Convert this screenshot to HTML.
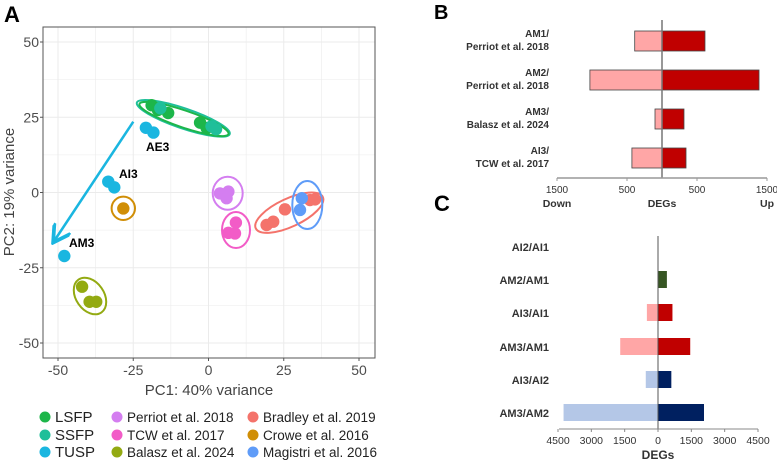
<!DOCTYPE html>
<html><head><meta charset="utf-8"><style>
body{margin:0;background:#fff;width:777px;height:462px;overflow:hidden;font-family:"Liberation Sans",sans-serif}
</style></head><body>
<svg id="s" width="777" height="462" viewBox="0 0 777 462" xmlns="http://www.w3.org/2000/svg" font-family="Liberation Sans, sans-serif">
<text x="4" y="22" font-size="22" font-weight="bold">A</text>
<text x="434" y="19" font-size="20" font-weight="bold">B</text>
<text x="434" y="211" font-size="22" font-weight="bold">C</text>
<g id="pca"></g>
<g id="pb"></g>
<g id="pc"></g>
<g id="leg"></g>
</svg>
<script>
const NS="http://www.w3.org/2000/svg";
function mk(p,t,a,txt){const e=document.createElementNS(NS,t);for(const k in a)e.setAttribute(k,a[k]);if(txt!==undefined)e.textContent=txt;p.appendChild(e);return e;}
// ---------- Panel A data ----------
const pcaTicks=[-50,-25,0,25,50];
const groupNames=["LSFP","SSFP","TUSP","Perriot","TCW","Balasz","Bradley","Crowe","Magistri"];
const groupColors=["#1db64a","#1fbf9a","#1ab6e0","#d47ef0","#f25cc7","#93aa12","#f4736b","#d08e06","#5f9cf8"];
const ptsLSFP=[[-18.9,29],[-16.8,27.4],[-13.4,26.4],[-2.8,23.2],[-0.6,21.4]];
const ptsSSFP=[[-16,28],[1,22],[2.5,21]];
const ptsTUSP=[[-20.8,21.5],[-18.3,19.9],[-33.3,3.6],[-31.3,1.7],[-47.9,-21.1]];
const ptsPerriot=[[3.8,-0.3],[6.6,0.3],[6,-1.9]];
const ptsTCW=[[9.1,-10],[6.6,-13.4],[8.8,-13.6]];
const ptsBalasz=[[-42,-31.3],[-39.5,-36.3],[-37.3,-36.3]];
const ptsBradley=[[19.3,-10.8],[21.5,-9.7],[25.4,-5.6],[33.7,-2.5],[35.4,-2.3]];
const ptsCrowe=[[-28.3,-5.3]];
const ptsMagistri=[[31,-1.9],[30.4,-5.8]];
const allPts=[ptsLSFP,ptsSSFP,ptsTUSP,ptsPerriot,ptsTCW,ptsBalasz,ptsBradley,ptsCrowe,ptsMagistri];
const sx=v=>208.5+v*3.01, sy=v=>192.5-v*3.01;
const A=document.getElementById('pca');
mk(A,'rect',{x:43,y:27,width:332,height:331,fill:'#fff'});
for(let v=-62.5;v<=62.5;v+=12.5){const X=sx(v),Y=sy(v);
 if(X>43&&X<375){const l=mk(A,'line',{x1:X,x2:X,y1:27,y2:358,stroke:'#ebebeb','stroke-width':(v%25===0)?1:0.6});}
 if(Y>27&&Y<358){const l=mk(A,'line',{y1:Y,y2:Y,x1:43,x2:375,stroke:'#ebebeb','stroke-width':(v%25===0)?1:0.6});}}
const fr=mk(A,'rect',{x:43,y:27,width:332,height:331,fill:'none',stroke:'#555','stroke-width':1});

pcaTicks.forEach(t=>{
 const a=mk(A,'text',{x:sx(t),y:375,'font-size':14,'text-anchor':'middle',fill:'#4d4d4d'},String(t));
 const b=mk(A,'text',{x:39,y:sy(t)+5,'font-size':14,'text-anchor':'end',fill:'#4d4d4d'},String(t));
 mk(A,'line',{x1:sx(t),x2:sx(t),y1:358,y2:361,stroke:'#555'});mk(A,'line',{x1:40,x2:43,y1:sy(t),y2:sy(t),stroke:'#555'});
});
let xt=mk(A,'text',{x:209,y:395,'font-size':15,'text-anchor':'middle',fill:'#444'},'PC1: 40% variance');
let yt=mk(A,'text',{x:14,y:192,'font-size':15,'text-anchor':'middle',fill:'#444',transform:'rotate(-90 14 192)'},'PC2: 19% variance');
const ells=[[183.3,118.3,49,10,18.7,1],[184,119,47,8.5,18.7,0],[123.3,208.3,11.7,11.7,0,7],[90,296,20,14,55,5],[227.7,193.3,15,16.5,0,3],[236,230,14,18,0,4],[289.3,212.7,37,14,-25,6],[307.3,205,15,24,0,8]];
ells.forEach(e=>{const el=mk(A,'ellipse',{cx:e[0],cy:e[1],rx:e[2],ry:e[3],transform:`rotate(${e[4]} ${e[0]} ${e[1]})`,fill:'none',stroke:groupColors[e[5]],'stroke-width':2});
 });
allPts.forEach((g,i)=>g.forEach(p=>{const c=mk(A,'circle',{cx:sx(p[0]),cy:sy(p[1]),r:6.2,fill:groupColors[i]});
 }));
mk(A,'defs',{}).innerHTML='<marker id="ah" markerWidth="8" markerHeight="8" refX="6" refY="4" orient="auto"><path d="M0,0 L7,4 L0,8" fill="none" stroke="#1ab6e0" stroke-width="1.5"/></marker>';
const ar=mk(A,'line',{x1:133.3,y1:121.7,x2:54.5,y2:240.5,stroke:'#1ab6e0','stroke-width':2.5,'marker-end':'url(#ah)'});

[["AE3",146,151],["AI3",119,178],["AM3",69,247]].forEach(l=>{const t=mk(A,'text',{x:l[1],y:l[2],'font-size':12,'font-weight':'bold'},l[0]);});
const legLabels=["LSFP","SSFP","TUSP","Perriot et al. 2018","TCW et al. 2017","Balasz et al. 2024","Bradley et al. 2019","Crowe et al. 2016","Magistri et al. 2016"];
const L=document.getElementById('leg');
legLabels.forEach((t,i)=>{const col=Math.floor(i/3),row=i%3;const cx=[45,117,253][col],cy=[417,435,452][row];
 mk(L,'circle',{cx:cx,cy:cy,r:5.5,fill:groupColors[i]});
 const tx=mk(L,'text',{x:cx+10,y:cy+5,'font-size':col?13.5:15,fill:'#222'},t);});
// ---------- Panel B ----------
const bCats=[["AM1/","Perriot et al. 2018"],["AM2/","Perriot et al. 2018"],["AM3/","Balasz et al. 2024"],["AI3/","TCW et al. 2017"]];
const bDown=[390,1030,100,430];
const bUp=[614,1386,314,343];
const bTicks=["1500","500","500","1500"];
const bTickVals=[-1500,-500,500,1500];
const B=document.getElementById('pb');
const bx=v=>662+v*0.07;const bRowY=[31,70,109,148];
bCats.forEach((c,i)=>{const y=bRowY[i];
 const d=mk(B,'rect',{x:bx(-bDown[i]),y:y,width:bx(0)-bx(-bDown[i]),height:20,fill:'#ffa6a6',stroke:'#444','stroke-width':0.8});
 const u=mk(B,'rect',{x:bx(0),y:y,width:bx(bUp[i])-bx(0),height:20,fill:'#c00000',stroke:'#444','stroke-width':0.8});
 const t1=mk(B,'text',{x:549,y:y+6,'font-size':10,'font-weight':'bold','text-anchor':'end',fill:'#333'},c[0]);
 mk(B,'text',{x:549,y:y+19,'font-size':10,'font-weight':'bold','text-anchor':'end',fill:'#333'},c[1]);});
mk(B,'line',{x1:662,x2:662,y1:20,y2:178,stroke:'#777','stroke-width':1.5});
const bax=mk(B,'line',{x1:557,x2:767,y1:178,y2:178,stroke:'#999','stroke-width':1.5});
bTickVals.forEach((v,i)=>{mk(B,'line',{x1:bx(v),x2:bx(v),y1:178,y2:181,stroke:'#999'});
 const t=mk(B,'text',{x:bx(v),y:193,'font-size':10,'text-anchor':'middle',fill:'#333'},bTicks[i]);});
[["Down",557],["DEGs",662],["Up",767]].forEach(l=>{const t=mk(B,'text',{x:l[1],y:207,'font-size':10.5,'font-weight':'bold','text-anchor':'middle',fill:'#333'},l[0]);});
// ---------- Panel C ----------
const cCats=["AI2/AI1","AM2/AM1","AI3/AI1","AM3/AM1","AI3/AI2","AM3/AM2"];
const cDown=[0,0,500,1700,550,4250];
const cUp=[0,400,650,1450,600,2070];
const cTickVals=[-4500,-3000,-1500,0,1500,3000,4500];
const cTickLabels=["4500","3000","1500","0","1500","3000","4500"];
const cDownCol=["#ffa6a6","#ffa6a6","#ffa6a6","#ffa6a6","#b4c7e7","#b4c7e7"];
const cUpCol=["#375623","#375623","#c00000","#c00000","#002060","#002060"];
const C=document.getElementById('pc');
const cx=v=>658+v*(100/4500);const cRowY=[238,271,304,338,371,404];
cCats.forEach((c,i)=>{const y=cRowY[i];
 if(cDown[i]>0){const d=mk(C,'rect',{x:cx(-cDown[i]),y:y,width:cx(0)-cx(-cDown[i]),height:17,fill:cDownCol[i]});}
 if(cUp[i]>0){const u=mk(C,'rect',{x:cx(0),y:y,width:cx(cUp[i])-cx(0),height:17,fill:cUpCol[i]});}
 const t=mk(C,'text',{x:549,y:y+13,'font-size':11,'font-weight':'bold','text-anchor':'end',fill:'#333'},c);});
mk(C,'line',{x1:658,x2:658,y1:236,y2:429,stroke:'#555','stroke-width':1});
const cax=mk(C,'line',{x1:559,x2:758,y1:429,y2:429,stroke:'#888','stroke-width':1});
cTickVals.forEach((v,i)=>{mk(C,'line',{x1:cx(v),x2:cx(v),y1:429,y2:432,stroke:'#888'});
 const t=mk(C,'text',{x:cx(v),y:444,'font-size':10.5,'text-anchor':'middle',fill:'#333'},cTickLabels[i]);});
const ct=mk(C,'text',{x:658,y:459,'font-size':12,'font-weight':'bold','text-anchor':'middle',fill:'#333'},'DEGs');
</script>
</body></html>
